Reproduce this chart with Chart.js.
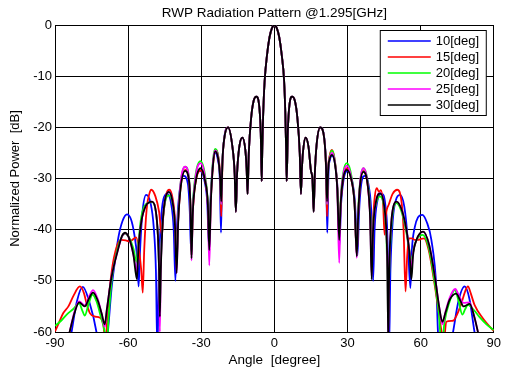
<!DOCTYPE html>
<html>
<head>
<meta charset="utf-8">
<script src="https://cdn.jsdelivr.net/npm/chart.js@4.4.1/dist/chart.umd.min.js"></script>
<style>
  html, body { margin: 0; padding: 0; background: #fff; }
</style>
</head>
<body>
<canvas id="pattern" width="505" height="371"></canvas>
<script>
// --- Data: [angle (deg), normalized power (dB)] ---
const xTicks = [-90, -60, -30, 0, 30, 60, 90];
const yTicks = [-60, -50, -40, -30, -20, -10, 0];
const seriesNames = ['10[deg]', '15[deg]', '20[deg]', '25[deg]', '30[deg]'];

// main beam and near sidelobes, common to all tilts
const core = [[-19,-20],[-17.3,-23.5],[-16.3,-29],[-15.8,-36.5],[-15.3,-29],[-14.4,-23.8],[-13.1,-22],
  [-11.9,-24.5],[-11.4,-28],[-11,-33],[-10.5,-25],[-9.5,-18],[-8.5,-14.8],[-7.4,-14],[-6.3,-15.5],
  [-5.6,-21],[-5.2,-30.5],[-4.95,-24],[-4.6,-17.5],[-4,-11],[-3,-5.8],[-2,-2.4],[-1,-0.6],[0,0],
  [1,-0.6],[2,-2.4],[3,-5.8],[4,-11],[4.5,-17.5],[4.8,-24],[5.05,-30.5],[5.5,-21],[6.2,-15.5],
  [7.3,-14],[8.4,-14.8],[9.4,-18],[10.4,-25],[10.9,-33],[11.3,-28],[11.8,-24.5],[12.8,-22],
  [14,-23.8],[15,-28.5],[15.6,-30],[16.1,-36.5],[16.6,-29],[17.3,-23.5],[18.8,-20]];

const tilt10 = [[-86,-68],[-83.2,-60],[-81,-54],[-78.6,-51.2],[-76,-54],[-73,-60],[-70.5,-70],[-68.3,-60],
  [-66.8,-51.5],[-65.5,-46.5],[-64,-41.5],[-62.3,-38.3],[-60.5,-37],[-58.8,-38],[-57.5,-40.8],[-56.3,-45.5],
  [-55.7,-51.1],[-55.1,-44],[-54.1,-36.5],[-52.6,-33.2],[-50.8,-34.8],[-49.5,-39.5],[-48.6,-48],[-48,-64],
  [-47.4,-48],[-46.5,-38],[-45.5,-34],[-44,-33],[-42.4,-34.8],[-41.3,-40],[-40.6,-50],[-40,-40],[-39,-33],
  [-37.2,-29.5],[-35.5,-31],[-34.7,-36.5],[-34.2,-44],[-33.7,-37],[-32.6,-31],[-30.5,-28.5],[-28.6,-30.6],
  [-27.5,-35],[-26.9,-43],[-26.3,-35],[-25.3,-27.5],[-24.4,-25],[-23.2,-26.3],[-22.4,-30],[-21.9,-40.6],
  [-21.4,-28],[-20.6,-22.2],
  [20.5,-22.2],[21.2,-28],[21.7,-40.6],[22.2,-29],[22.8,-26.3],[23.7,-25.5],[24.9,-27.2],[25.9,-32],
  [26.7,-43],[27.3,-35.5],[28.4,-30.2],[30,-28.5],[31.9,-30.5],[33.1,-35],[34.1,-45],[34.7,-37],[35.6,-31.2],
  [37,-29.5],[38.7,-31.5],[39.9,-38],[40.5,-50],[41.1,-40],[42.2,-34.5],[44,-33],[45.6,-35.5],[46.5,-44],
  [47,-64],[47.6,-48],[48.6,-38],[49.8,-34.3],[51.5,-33.2],[53.3,-35.5],[54.7,-42],[55.8,-51.4],[56.4,-44],
  [57.6,-39.5],[58.9,-37.6],[60.7,-37.1],[62.5,-38.5],[64.4,-42],[66.5,-51.8],[67.1,-60],[69.5,-70],
  [73.3,-60],[75.5,-54],[78,-51.1],[80,-53.5],[82.1,-60],[85,-68]];

const tilt15 = [[-90,-59.9],[-88.5,-58.3],[-86.6,-56.3],[-84.5,-55],[-82.5,-53],[-79.8,-51.1],[-78.2,-52.3],
  [-77,-54.5],[-75.7,-56.3],[-73.5,-57],[-71.6,-57.2],[-70.2,-58.5],[-69.3,-62],[-68.4,-56],[-66.7,-48],
  [-64.6,-43.2],[-62.8,-42],[-61,-42.1],[-59.4,-42.3],[-58,-41.9],[-56.7,-41.5],[-55.7,-43.5],[-54.6,-48],
  [-54,-52.3],[-53.4,-44],[-52.4,-36],[-51.3,-33],[-50.5,-32.2],[-48.8,-33.5],[-47.3,-36.5],[-46.2,-41],
  [-45.5,-37],[-44.3,-33],[-43.1,-32.2],[-41.7,-34],[-40.7,-38.5],[-40.1,-46],[-39.5,-38.5],[-38.4,-31.5],
  [-36.5,-28.3],[-35,-30.5],[-34.4,-36],[-34,-45],[-33.5,-37],[-32.4,-31],[-30.3,-28.4],[-28.4,-30.5],
  [-27.3,-35],[-26.7,-43],[-26.1,-34.5],[-25.1,-27],[-24,-24.4],[-22.9,-26],[-22.2,-30],[-21.8,-37.4],
  [-21.3,-27],[-20.5,-22],
  [20.4,-22],[21.1,-27],[21.6,-37.4],[22.1,-28],[22.7,-25.5],[23.6,-24.4],[24.8,-26.5],[25.8,-31.5],
  [26.6,-41],[27.2,-35],[28.2,-30],[29.7,-28],[31.6,-30.3],[32.9,-35],[33.8,-45],[34.4,-37],[35.2,-31],
  [36.5,-28.5],[38.2,-31],[39.3,-37],[39.9,-45],[40.5,-38],[41.2,-33.5],[42,-31.9],[42.9,-32.6],[43.7,-32.3],
  [44.6,-35],[45.2,-41],[45.8,-37],[47,-35],[48.5,-33],[50.4,-32.2],[52,-34],[53,-40],[53.8,-52.1],
  [54.5,-45],[55.2,-41.7],[56.5,-41.7],[57.6,-42],[59,-42],[60.2,-41.8],[61.4,-41.7],[63.3,-44],[65.5,-50],
  [67.4,-56],[68.6,-60],[69.5,-62],[70.5,-58],[73.3,-57.8],[75,-56.5],[76.7,-54.4],[78.3,-52],[79.4,-51.1],
  [80.6,-52.5],[82.1,-54.7],[85.5,-57.3],[89.6,-59.6],[90,-59.8]];

const tilt20 = [[-90,-58.8],[-87.5,-57.8],[-85.2,-56.6],[-82.5,-55.5],[-80.1,-54.4],[-78.8,-55.8],[-77.8,-56.8],
  [-76.2,-54.5],[-74.6,-52.7],[-73,-54],[-71.2,-57],[-69.6,-60],[-68.8,-63],[-68,-57],[-66.5,-49],
  [-64.2,-43.5],[-62.5,-41.3],[-61.2,-40.8],[-59.5,-41.6],[-57.8,-43.8],[-56.6,-46.3],[-55.8,-42.5],
  [-54.6,-37.5],[-52.7,-35],[-50.2,-34.6],[-48.6,-36.5],[-47.8,-41],[-47.3,-48],[-47,-55],[-46.6,-47],
  [-45.8,-38.5],[-44.8,-34.5],[-43.3,-33.3],[-41.8,-34.8],[-40.8,-39],[-40.1,-47],[-39.5,-38],[-38.5,-31],
  [-36.6,-27.7],[-35,-30],[-34.4,-36],[-34,-45],[-33.5,-36],[-32.4,-29.5],[-30.3,-26.6],[-28.4,-29.5],
  [-27.3,-35],[-26.7,-44],[-26.1,-34],[-25.2,-26.5],[-24.3,-24.2],[-23.1,-25.5],[-22.3,-29.5],[-21.8,-35],
  [-21.3,-26.5],[-20.5,-22],
  [20.4,-22],[21.1,-26.5],[21.6,-35],[22.1,-28],[22.7,-25.8],[23.6,-24.5],[24.8,-26.5],[25.8,-32],
  [26.6,-42.5],[27.2,-34],[28.2,-29],[29.7,-27],[31.6,-29.5],[32.9,-35],[33.8,-45],[34.4,-36],[35.2,-30.5],
  [36.5,-28],[38.2,-30.5],[39.3,-37],[39.9,-48],[40.5,-39],[41.7,-35],[43.3,-33.5],[45.1,-36],[46,-42],
  [46.4,-50],[46.7,-60],[47.1,-49],[47.9,-40],[48.8,-36],[50.1,-34.8],[52.5,-37],[54.5,-41.5],[55.6,-44.5],
  [56.3,-46.2],[57.2,-43.5],[58.6,-41.8],[60.8,-41],[63.3,-43.5],[65.5,-49.5],[67.5,-56.5],[68.6,-63],
  [69.8,-58],[71.8,-54.2],[74,-51.8],[75.6,-54],[77.1,-56.6],[78.3,-55.5],[79.4,-54.7],[82,-55.8],
  [84,-57],[87,-58.5],[90,-59.6]];

const tilt25 = [[-87,-66],[-84,-60],[-82,-56],[-80.1,-54],[-77.8,-54.8],[-76,-53],[-74.4,-51.8],[-72.5,-53.5],
  [-70.8,-56.5],[-69.6,-59],[-68.7,-55.5],[-66.9,-49.5],[-64.2,-44],[-62.5,-41.3],[-61.2,-40.7],[-59.5,-41.8],
  [-57.8,-45],[-56.4,-48.2],[-55.8,-43.5],[-54.6,-38.5],[-52.7,-35.3],[-50.2,-34.5],[-48.6,-36.5],[-47.8,-41],
  [-47.3,-48],[-47,-60],[-46.6,-48],[-45.8,-38.5],[-44.8,-34],[-43.3,-32.6],[-41.8,-34.5],[-40.8,-39],
  [-40.1,-48.5],[-39.5,-38.5],[-38.5,-31],[-36.6,-27.7],[-35,-30.2],[-34.4,-36],[-34,-46],[-33.5,-37],
  [-32.4,-30],[-30.3,-27],[-28.4,-30],[-27.3,-36],[-26.7,-47],[-26.1,-35],[-25.2,-27],[-24.3,-24.5],
  [-23.1,-25.8],[-22.3,-29.5],[-21.8,-35],[-21.3,-26.5],[-20.5,-22],
  [20.4,-22],[21.1,-26.5],[21.6,-35],[22.1,-28],[22.7,-26],[23.6,-25],[24.8,-26.8],[25.8,-32.5],
  [26.6,-46.5],[27.2,-35],[28.2,-29.5],[29.7,-27.5],[31.6,-30],[32.9,-35],[33.8,-45.5],[34.4,-37],
  [35.2,-30.5],[36.5,-28],[38.2,-30.8],[39.3,-38],[39.9,-49],[40.5,-40],[41.7,-34.5],[43.5,-32.8],
  [45.1,-35.5],[46,-41],[46.4,-48],[46.7,-62],[47.1,-48],[47.9,-39],[48.8,-35.5],[50.1,-34.5],[52.5,-36.5],
  [54.5,-41],[55.5,-44.5],[56.2,-48],[56.9,-44.5],[58.3,-42],[61,-40.4],[63.5,-43],[65.8,-49],[67.8,-55.7],
  [68.9,-58.5],[70.2,-56],[71.9,-53.3],[74.2,-51.6],[76,-53.2],[77.6,-54.3],[80,-54.2],[82,-57],[83.5,-60],
  [86,-66]];

const tilt30 = [[-87,-66],[-84,-60],[-82,-56.3],[-80.1,-54.2],[-77.8,-55],[-76,-53.4],[-74.4,-52.3],
  [-72.5,-53.8],[-70.8,-56.5],[-69.6,-58.5],[-68.7,-55.5],[-66.9,-49.5],[-64.2,-44],[-62.5,-41.2],
  [-61.2,-40.6],[-59.5,-41.8],[-57.8,-45],[-56.4,-49.7],[-55.8,-44],[-54.6,-38.5],[-52.7,-35.3],[-50.2,-34.5],
  [-48.6,-36.5],[-47.8,-41],[-47.3,-48],[-47,-57],[-46.6,-48],[-45.8,-38.5],[-44.8,-34],[-43.3,-32.6],
  [-41.8,-34.5],[-40.8,-39],[-40.1,-48.5],[-39.5,-39],[-38.5,-32],[-36.6,-28.5],[-35,-30.5],[-34.4,-36],
  [-34,-45.6],[-33.5,-37],[-32.4,-31],[-30.3,-28],[-28.4,-30.5],[-27.3,-35],[-26.7,-44],[-26.1,-35],
  [-25.2,-27.5],[-24.3,-24.7],[-23.1,-26],[-22.3,-29.5],[-21.8,-34.5],[-21.3,-26.5],[-20.5,-22],
  [20.4,-22],[21.1,-26.5],[21.6,-34.5],[22.1,-28],[22.7,-26.2],[23.6,-25.4],[24.8,-27],[25.8,-32],
  [26.6,-42],[27.2,-35],[28.2,-30],[29.7,-28.3],[31.6,-30.3],[32.9,-35],[33.8,-45.2],[34.4,-37],[35.2,-31],
  [36.5,-28.7],[38.2,-31],[39.3,-38],[39.9,-49.7],[40.5,-40],[41.7,-34.5],[43.5,-32.9],[45.1,-35.5],
  [46,-41],[46.4,-48],[46.7,-62],[47.1,-48],[47.9,-39],[48.8,-35.5],[50.1,-34.5],[52.5,-36.5],[54.5,-41],
  [55.5,-45],[56.2,-49.7],[56.9,-45],[58.3,-42],[61,-40.4],[63.5,-43],[65.8,-49.1],[67.8,-55.7],[68.9,-58],
  [70.2,-56.2],[71.9,-53.7],[74.6,-52.5],[76.2,-53.8],[77.6,-55],[80.1,-54.5],[82,-57],[83.5,-60],[86,-66]];

const seriesData = [tilt10, tilt15, tilt20, tilt25, tilt30];
const seriesColors = ['#0000ff', '#ff0000', '#00ff00', '#ff00ff', '#000000'];

const FONT = '"Liberation Sans", Arial, Helvetica, sans-serif';
const TITLE = 'RWP Radiation Pattern @1.295[GHz]';

function toPoints(side) {
  return side.concat(core)
    .sort((a, b) => a[0] - b[0])
    .map(p => ({ x: p[0], y: p[1] }));
}

// title centred over the axes, not the whole canvas
const axesTitle = {
  id: 'axesTitle',
  afterDraw(chart) {
    const { ctx, chartArea } = chart;
    ctx.save();
    ctx.font = '13.5px ' + FONT;
    ctx.fillStyle = '#000';
    ctx.textAlign = 'center';
    ctx.textBaseline = 'middle';
    ctx.fillText(TITLE, (chartArea.left + chartArea.right) / 2, 13);
    ctx.restore();
  }
};

// --- Legend box drawn inside the plot, MATLAB style ---
const boxLegend = {
  id: 'boxLegend',
  afterDatasetsDraw(chart) {
    const { ctx, chartArea } = chart;
    const left = chartArea.right - 113.5, top = chartArea.top + 5.5;
    ctx.save();
    ctx.fillStyle = '#fff';
    ctx.fillRect(left, top, 106, 85);
    ctx.strokeStyle = '#000';
    ctx.lineWidth = 1;
    ctx.strokeRect(left, top, 106, 85);
    ctx.font = '13px ' + FONT;
    ctx.textBaseline = 'middle';
    chart.data.datasets.forEach((ds, i) => {
      const y = top + 10.5 + i * 16;
      ctx.strokeStyle = ds.borderColor;
      ctx.lineWidth = 1.5;
      ctx.beginPath();
      ctx.moveTo(left + 7.5, y);
      ctx.lineTo(left + 50.5, y);
      ctx.stroke();
      ctx.fillStyle = '#000';
      ctx.fillText(ds.label, left + 55.5, y);
    });
    ctx.restore();
  }
};

const chart = new Chart(document.getElementById('pattern'), {
  type: 'line',
  data: {
    datasets: seriesNames.map((name, i) => ({
      label: name,
      data: toPoints(seriesData[i]),
      borderColor: seriesColors[i],
      backgroundColor: seriesColors[i],
      order: seriesNames.length - 1 - i
    }))
  },
  options: {
    responsive: false,
    animation: false,
    layout: { padding: { left: 0, right: 9, top: 25, bottom: 0 } },
    elements: {
      point: { radius: 0 },
      line: { borderWidth: 1.8, cubicInterpolationMode: 'monotone' }
    },
    plugins: {
      legend: { display: false },
      tooltip: { enabled: false },
      title: { display: false }
    },
    scales: {
      x: {
        type: 'linear', min: xTicks[0], max: xTicks[xTicks.length - 1],
        afterBuildTicks: s => { s.ticks = xTicks.map(v => ({ value: v })); },
        ticks: { color: '#000', font: { family: FONT, size: 13 }, padding: 4, maxRotation: 0 },
        grid: { color: '#000', drawTicks: false },
        border: { color: '#000' },
        title: { display: true, text: 'Angle  [degree]', color: '#000',
                 font: { family: FONT, size: 13.5 }, padding: { top: 0, bottom: 3 } },
        afterFit: s => { s.height = 39; }
      },
      y: {
        type: 'linear', min: yTicks[0], max: yTicks[yTicks.length - 1],
        afterBuildTicks: s => { s.ticks = yTicks.map(v => ({ value: v })); },
        ticks: { color: '#000', font: { family: FONT, size: 13 }, padding: 3 },
        grid: { color: '#000', drawTicks: false },
        border: { color: '#000' },
        title: { display: true, text: 'Normalized Power  [dB]', color: '#000',
                 font: { family: FONT, size: 13 }, padding: { top: 8, bottom: 0 } },
        afterFit: s => { s.width = 55; }
      }
    }
  },
  plugins: [boxLegend, axesTitle]
});
</script>
</body>
</html>
